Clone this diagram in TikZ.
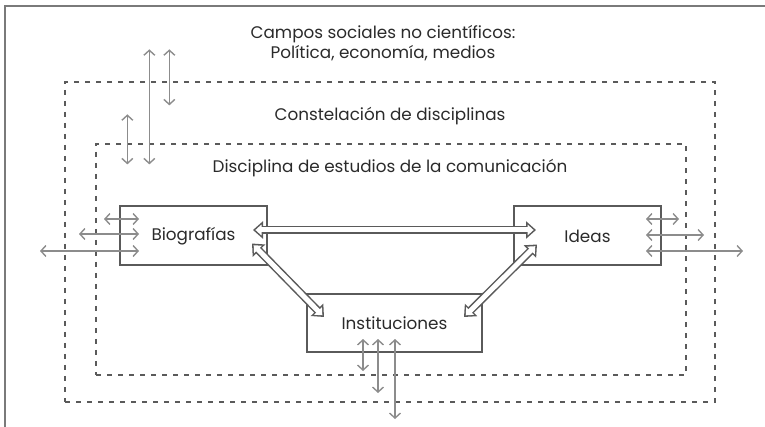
\documentclass[tikz,border=0pt]{standalone}
\usepackage{fontspec}
\setmainfont{Poppins}
\usetikzlibrary{calc}
\usetikzlibrary{arrows.meta,positioning}
\definecolor{framegray}{HTML}{7A7A7A}
\definecolor{boxgray}{HTML}{5A5A5A}
\definecolor{arrgray}{HTML}{8C8C8C}
\definecolor{txtgray}{HTML}{2A2A2A}

\begin{document}
\begin{tikzpicture}[x=1pt,y=-1pt,font=\fontsize{16.8}{20}\selectfont,text=txtgray]
	\tikzstyle{box}=[draw=boxgray,line width=2pt,minimum width=147pt,minimum height=59pt,inner sep=0pt]
	\tikzstyle{field}=[draw=boxgray,line width=1.3pt,dash pattern=on 5pt off 6pt,inner sep=0pt]
	\tikzstyle{thin}=[draw=arrgray,line width=1.4pt,{Straight Barb[length=5pt,width=11pt]}-{Straight Barb[length=5pt,width=11pt]}]
	\tikzstyle{bigout}=[draw=boxgray,line width=8pt,shorten >=0pt,shorten <=0pt,{Triangle[length=10pt,width=17pt]}-{Triangle[length=10pt,width=17pt]}]
	\tikzstyle{bigarr}=[draw=white,line width=5pt,shorten >=2.4pt,shorten <=2.4pt,{Triangle[length=6.1pt,width=10.5pt]}-{Triangle[length=6.1pt,width=10.5pt]},preaction={bigout}]

	\useasboundingbox (0,0) rectangle (765,427);

	% fields
	\draw[framegray,line width=2.5pt] (5,427) -- (5,6) -- (765,6);
	\node[field,minimum width=650pt,minimum height=320pt] (const) at (390,242) {};
	\node[field,minimum width=590pt,minimum height=231pt] (disc) at (391,259.5) {};

	\node[align=center,anchor=base] (campos) at (383,59) {Campos sociales no científicos:\\Política, economía, medios};
	\node[anchor=base] (constlbl) at (390,121) {Constelación de disciplinas};
	\node[anchor=base] (disclbl) at (390,173) {Disciplina de estudios de la comunicación};

	% boxes
	\node[box] (bio) at (193.5,236) {Biografías};
	\node[box] (ideas) at (587.5,236) {Ideas};
	\node[box,minimum width=175pt,minimum height=58pt] (inst) at (394.5,323) {Instituciones};

	% top
	\draw[thin] ($(disc.north west)+(54,21)$) -- ++(0,-115);
	\draw[thin] ($(const.north west)+(105,24)$) -- ++(0,-56);
	\draw[thin] ($(disc.north west)+(32,21)$) -- ++(0,-50);
	% bio
	\foreach \dy/\len in {-17/35,-2/60,15/99}
		\draw[thin] ($(bio.west)+(20,\dy)$) -- ++(-\len,0);
	% ideas
	\foreach \dy/\len in {-17/33,-1/58,15/97}
		\draw[thin] ($(ideas.east)+(-16,\dy)$) -- ++(\len,0);
	% inst
	\foreach \dx/\len in {-31.5/32,-16.5/54,0.5/80}
		\draw[thin] ($(inst.south)+(\dx,-14)$) -- ++(0,\len);

	% links
	\draw[bigarr] ($(bio.east)+(-15,-6)$) -- ($(ideas.west)+(23,-6)$);
	\draw[bigarr] ($(bio.south east)+(-16,-23)$) -- ($(inst.north west)+(18,24)$);
	\draw[bigarr] ($(ideas.south west)+(24,-22)$) -- ($(inst.north east)+(-19,24)$);
\end{tikzpicture}
\end{document}
